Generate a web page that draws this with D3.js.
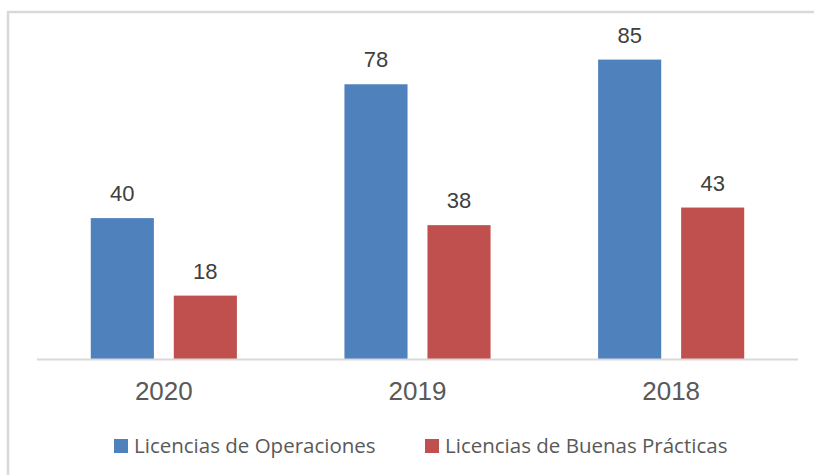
<!DOCTYPE html>
<html>
<head>
<meta charset="utf-8">
<script src="https://cdn.jsdelivr.net/npm/d3@7"></script>
<style>
  body { margin: 0; background: #fff; }
  svg { display: block; }
</style>
</head>
<body>
<div id="chart"></div>
<script>
// data
const years = ["2020", "2019", "2018"];
const seriesNames = ["Licencias de Operaciones", "Licencias de Buenas Prácticas"];
const operaciones = [40, 78, 85];
const buenasPracticas = [18, 38, 43];
const seriesColors = ["#4F81BD", "#C0504D"];

const width = 814, height = 475;
const margin = { top: 42, right: 16, bottom: 116, left: 37 };

const svg = d3.select("#chart").append("svg")
  .attr("width", width)
  .attr("height", height);

// chart border (runs off the right/bottom edge like the source)
svg.append("rect")
  .attr("x", 8).attr("y", 12)
  .attr("width", width + 20).attr("height", height + 20)
  .attr("fill", "none")
  .attr("stroke", "#d9d9d9")
  .attr("stroke-width", 2.5);

const plotW = width - margin.left - margin.right;
const plotH = height - margin.top - margin.bottom;

const g = svg.append("g")
  .attr("transform", "translate(" + margin.left + "," + margin.top + ")");

const x0 = d3.scaleBand()
  .domain(years)
  .range([0, plotW])
  .paddingInner(0.424)
  .paddingOuter(0.212);

const x1 = d3.scaleBand()
  .domain(seriesNames)
  .range([0, x0.bandwidth()])
  .paddingInner(0.24);

const y = d3.scaleLinear()
  .domain([0, 90])
  .range([plotH, 0]);

const rows = years.map((yr, i) => ({
  year: yr,
  values: [
    { key: seriesNames[0], value: operaciones[i], color: seriesColors[0] },
    { key: seriesNames[1], value: buenasPracticas[i], color: seriesColors[1] }
  ]
}));

const groups = g.selectAll(".year")
  .data(rows)
  .enter().append("g")
  .attr("class", "year")
  .attr("transform", d => "translate(" + x0(d.year) + ",0)");

groups.selectAll("rect")
  .data(d => d.values)
  .enter().append("rect")
  .attr("x", d => x1(d.key))
  .attr("y", d => y(d.value))
  .attr("width", x1.bandwidth())
  .attr("height", d => plotH - y(d.value))
  .attr("fill", d => d.color);

groups.selectAll("text.val")
  .data(d => d.values)
  .enter().append("text")
  .attr("class", "val")
  .attr("x", d => x1(d.key) + x1.bandwidth() / 2)
  .attr("y", d => y(d.value) - 17)
  .attr("text-anchor", "middle")
  .attr("fill", "#404040")
  .style("font-family", "'Liberation Sans', Arial, sans-serif")
  .style("font-size", "22px")
  .text(d => d.value);

// baseline
g.append("line")
  .attr("x1", 0).attr("x2", plotW)
  .attr("y1", plotH + 0.5).attr("y2", plotH + 0.5)
  .attr("stroke", "#d9d9d9")
  .attr("stroke-width", 2);

// category labels
const xAxis = g.append("g")
  .attr("transform", "translate(0," + plotH + ")")
  .call(d3.axisBottom(x0).tickSize(0).tickPadding(0));
xAxis.select(".domain").remove();
xAxis.selectAll("text")
  .attr("dy", 0)
  .attr("y", 41)
  .attr("fill", "#595959")
  .style("font-family", "'Liberation Sans', Arial, sans-serif")
  .style("font-size", "26px");

// legend
const legendX = [114, 425];
const legend = svg.selectAll(".legend")
  .data(seriesNames)
  .enter().append("g")
  .attr("class", "legend")
  .attr("transform", (d, i) => "translate(" + legendX[i] + ",439)");

legend.append("rect")
  .attr("width", 14).attr("height", 14)
  .attr("fill", (d, i) => seriesColors[i]);

legend.append("text")
  .attr("x", 20)
  .attr("y", 13.5)
  .attr("fill", "#595959")
  .style("font-family", "'Open Sans', sans-serif")
  .style("font-size", "20.5px")
  .text(d => d);
</script>
</body>
</html>
